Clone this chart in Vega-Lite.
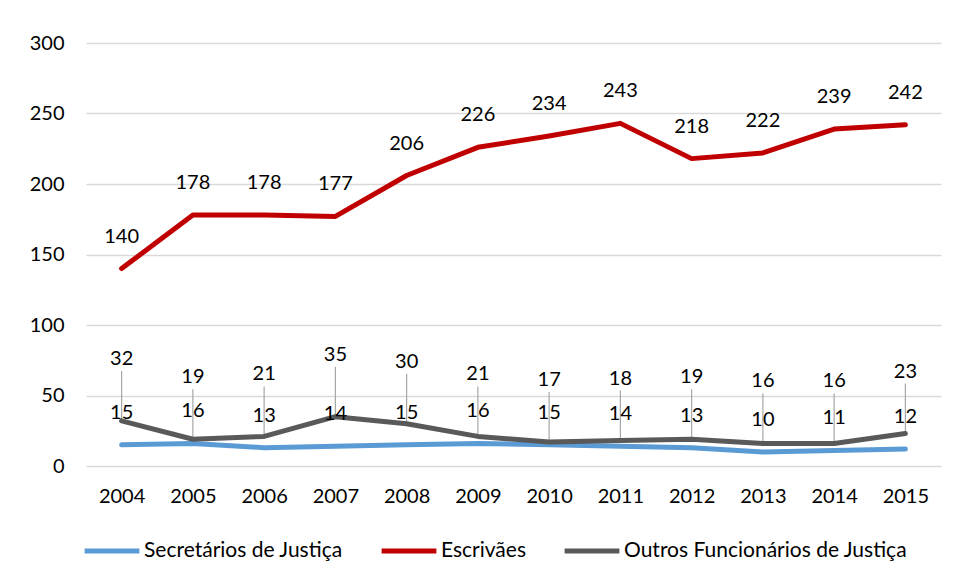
{
  "$schema": "https://vega.github.io/schema/vega-lite/v6.json",
  "autosize": {"type": "none"},
  "width": 855,
  "height": 423,
  "padding": {"left": 86, "top": 43, "right": 14, "bottom": 115},
  "background": "white",
  "config": {
    "font": "Lato",
    "view": {"stroke": null}
  },
  "data": {
    "values": [
      {"ano": "2004", "serie": "Secretários de Justiça", "valor": 15},
      {"ano": "2005", "serie": "Secretários de Justiça", "valor": 16},
      {"ano": "2006", "serie": "Secretários de Justiça", "valor": 13},
      {"ano": "2007", "serie": "Secretários de Justiça", "valor": 14},
      {"ano": "2008", "serie": "Secretários de Justiça", "valor": 15},
      {"ano": "2009", "serie": "Secretários de Justiça", "valor": 16},
      {"ano": "2010", "serie": "Secretários de Justiça", "valor": 15},
      {"ano": "2011", "serie": "Secretários de Justiça", "valor": 14},
      {"ano": "2012", "serie": "Secretários de Justiça", "valor": 13},
      {"ano": "2013", "serie": "Secretários de Justiça", "valor": 10},
      {"ano": "2014", "serie": "Secretários de Justiça", "valor": 11},
      {"ano": "2015", "serie": "Secretários de Justiça", "valor": 12},
      {"ano": "2004", "serie": "Escrivães", "valor": 140},
      {"ano": "2005", "serie": "Escrivães", "valor": 178},
      {"ano": "2006", "serie": "Escrivães", "valor": 178},
      {"ano": "2007", "serie": "Escrivães", "valor": 177},
      {"ano": "2008", "serie": "Escrivães", "valor": 206},
      {"ano": "2009", "serie": "Escrivães", "valor": 226},
      {"ano": "2010", "serie": "Escrivães", "valor": 234},
      {"ano": "2011", "serie": "Escrivães", "valor": 243},
      {"ano": "2012", "serie": "Escrivães", "valor": 218},
      {"ano": "2013", "serie": "Escrivães", "valor": 222},
      {"ano": "2014", "serie": "Escrivães", "valor": 239},
      {"ano": "2015", "serie": "Escrivães", "valor": 242},
      {"ano": "2004", "serie": "Outros Funcionários de Justiça", "valor": 32},
      {"ano": "2005", "serie": "Outros Funcionários de Justiça", "valor": 19},
      {"ano": "2006", "serie": "Outros Funcionários de Justiça", "valor": 21},
      {"ano": "2007", "serie": "Outros Funcionários de Justiça", "valor": 35},
      {"ano": "2008", "serie": "Outros Funcionários de Justiça", "valor": 30},
      {"ano": "2009", "serie": "Outros Funcionários de Justiça", "valor": 21},
      {"ano": "2010", "serie": "Outros Funcionários de Justiça", "valor": 17},
      {"ano": "2011", "serie": "Outros Funcionários de Justiça", "valor": 18},
      {"ano": "2012", "serie": "Outros Funcionários de Justiça", "valor": 19},
      {"ano": "2013", "serie": "Outros Funcionários de Justiça", "valor": 16},
      {"ano": "2014", "serie": "Outros Funcionários de Justiça", "valor": 16},
      {"ano": "2015", "serie": "Outros Funcionários de Justiça", "valor": 23}
    ]
  },
  "encoding": {
    "x": {
      "field": "ano", "type": "ordinal", "title": null,
      "scale": {"type": "point", "padding": 0.5},
      "axis": {"labelAngle": 0, "labelFontSize": 20, "labelColor": "#000000", "labelPadding": 20, "domain": false, "ticks": false, "grid": false}
    },
    "y": {
      "field": "valor", "type": "quantitative", "title": null,
      "scale": {"domain": [0, 300], "nice": false},
      "axis": {"values": [0, 50, 100, 150, 200, 250, 300], "labelFontSize": 20, "labelColor": "#000000", "labelPadding": 22, "domain": false, "ticks": false, "gridColor": "#d9d9d9", "gridWidth": 1.5}
    }
  },
  "layer": [
    {
      "transform": [{"filter": "datum.serie === 'Outros Funcionários de Justiça'"}],
      "mark": {"type": "rule", "color": "#a6a6a6", "strokeWidth": 1.2, "y2Offset": -50},
      "encoding": {"y2": {"field": "valor"}}
    },
    {
      "mark": {"type": "line", "strokeWidth": 5, "strokeCap": "round", "strokeJoin": "round"},
      "encoding": {
        "color": {
          "field": "serie", "type": "nominal",
          "scale": {"domain": ["Secretários de Justiça", "Escrivães", "Outros Funcionários de Justiça"], "range": ["#5b9bd5", "#c00000", "#595959"]},
          "legend": {
            "title": null, "orient": "none", "direction": "horizontal",
            "legendX": -4, "legendY": 478,
            "symbolType": "stroke", "symbolSize": 3000, "symbolStrokeWidth": 5,
            "labelFontSize": 21, "labelColor": "#000000", "labelOffset": 2, "labelLimit": 0,
            "columnPadding": 28
          }
        }
      }
    },
    {
      "transform": [{"filter": "datum.serie === 'Escrivães'"}],
      "mark": {"type": "text", "fontSize": 20, "dy": -32, "color": "#000000"},
      "encoding": {"text": {"field": "valor", "type": "quantitative"}}
    },
    {
      "transform": [{"filter": "datum.serie === 'Secretários de Justiça'"}],
      "mark": {"type": "text", "fontSize": 20, "dy": -32, "color": "#000000"},
      "encoding": {"text": {"field": "valor", "type": "quantitative"}}
    },
    {
      "transform": [{"filter": "datum.serie === 'Outros Funcionários de Justiça'"}],
      "mark": {"type": "text", "fontSize": 20, "dy": -62, "color": "#000000"},
      "encoding": {"text": {"field": "valor", "type": "quantitative"}}
    }
  ]
}
